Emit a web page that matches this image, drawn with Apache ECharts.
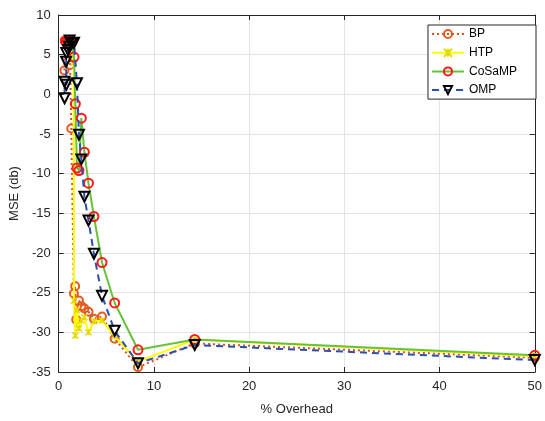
<!DOCTYPE html>
<html><head><meta charset="utf-8">
<script src="https://cdn.jsdelivr.net/npm/echarts@6/dist/echarts.min.js"></script>
<style>html,body{margin:0;padding:0;background:#fff}#c{width:545px;height:421px}</style>
</head><body><div id="c"></div>
<script>
// overhead (%) values and MSE (dB)
const xBP = [50, 14.29, 8.33, 5.88, 4.55, 3.70, 3.13, 2.70, 2.38, 2.13, 1.84, 1.73, 1.60, 1.32, 1.20, 0.95, 0.80, 0.65, 0.60];
const yBP = [-33.2, -31.4, -34.4, -30.8, -28.0, -28.3, -27.4, -27.0, -26.7, -26.0, -28.4, -24.2, -25.1, -4.3, 3.7, 6.7, 6.8, 6.8, 3.0];
const xHTP = [50, 14.29, 8.33, 5.88, 4.55, 3.70, 3.13, 2.70, 2.38, 2.13, 1.92, 1.75, 1.61, 1.58, 1.30, 1.10, 0.90, 0.70];
const yHTP = [-33.0, -30.9, -33.7, -30.5, -28.5, -28.6, -30.0, -28.1, -28.5, -29.5, -27.2, -30.4, -26.0, 4.0, 5.5, 6.2, 6.6, 6.7];
const xCoSaMP = [50, 14.29, 8.33, 5.88, 4.55, 3.70, 3.13, 2.70, 2.38, 2.13, 1.92, 1.75, 1.61, 1.40, 1.10, 0.90, 0.70];
const yCoSaMP = [-32.9, -30.9, -32.2, -26.3, -21.2, -15.4, -11.2, -7.3, -3.0, -9.6, -9.3, -1.2, 4.7, 6.6, 6.8, 6.8, 6.7];
const xOMP = [50, 14.29, 8.33, 5.88, 4.55, 3.70, 3.13, 2.70, 2.38, 2.13, 1.92, 1.61, 1.35, 1.15, 1.10, 0.97, 0.80, 0.78, 0.80, 0.62, 0.62];
const yOMP = [-33.5, -31.6, -33.9, -29.8, -25.4, -20.1, -15.9, -12.9, -8.2, -5.1, 1.4, 6.5, 6.4, 6.8, 6.0, 5.6, 5.2, 4.1, 1.2, 1.6, -0.5];
const seriesNames = ['BP', 'HTP', 'CoSaMP', 'OMP'];
const xTicks = [0, 10, 20, 30, 40, 50];
const yTicks = [-35, -30, -25, -20, -15, -10, -5, 0, 5, 10];

const pairs = (xs, ys) => xs.map((x, i) => [x, ys[i]]);
const font = 'Liberation Sans, Arial, Helvetica, sans-serif';
const axisCol = '#262626';
const chart = echarts.init(document.getElementById('c'), null, {renderer: 'canvas'});
const axisCommon = {
  type: 'value',
  axisLine: {show: true, onZero: false, lineStyle: {color: axisCol, width: 1}},
  axisTick: {show: true, inside: true, length: 5, lineStyle: {color: axisCol}},
  splitLine: {show: false}
};
const none = 'rgba(0,0,0,0)';
chart.setOption({
  animation: false,
  grid: {left: 57, right: 9, top: 15, bottom: 49, containLabel: false},
  legend: {
    data: seriesNames, orient: 'vertical', right: 9, top: 25,
    backgroundColor: '#fff', borderColor: '#262626', borderWidth: 1,
    padding: [3, 19, 3, 3], itemGap: 6.7, itemWidth: 32, itemHeight: 10,
    textStyle: {fontFamily: font, fontSize: 12, color: '#000'}
  },
  xAxis: [
    Object.assign({}, axisCommon, {min: 0, max: 50, interval: 10, position: 'bottom',
      name: '% Overhead', nameLocation: 'middle', nameGap: 31,
      nameTextStyle: {fontFamily: font, fontSize: 13, color: axisCol},
      axisLabel: {fontFamily: font, fontSize: 13, color: axisCol, margin: 8},
      splitLine: {show: true, lineStyle: {color: '#e3e3e3'}}}),
    Object.assign({}, axisCommon, {min: 0, max: 50, interval: 10, position: 'top', axisLabel: {show: false}})
  ],
  yAxis: [
    Object.assign({}, axisCommon, {min: -35, max: 10, interval: 5, position: 'left',
      name: 'MSE (db)', nameLocation: 'middle', nameGap: 33,
      nameTextStyle: {fontFamily: font, fontSize: 13, color: axisCol},
      axisLabel: {fontFamily: font, fontSize: 13, color: axisCol, margin: 8},
      splitLine: {show: true, lineStyle: {color: '#e3e3e3'}}}),
    Object.assign({}, axisCommon, {min: -35, max: 10, interval: 5, position: 'right', axisLabel: {show: false}})
  ],
  series: [
    {name: 'BP', type: 'line', data: pairs(xBP, yBP), symbol: 'circle', symbolSize: 8, showAllSymbol: true,
      lineStyle: {color: '#D95319', width: 2, type: [2, 3]},
      itemStyle: {color: none, borderColor: '#E8591E', borderWidth: 2}, z: 2},
    {name: 'HTP', type: 'line', data: pairs(xHTP, yHTP), symbol: 'path://M0,0L10,10M10,0L0,10M5,0L5,10', symbolSize: 6, showAllSymbol: true,
      lineStyle: {color: '#FFFF00', width: 2, type: 'solid'},
      itemStyle: {color: '#E6D800', borderColor: '#E6D800', borderWidth: 1.5}, z: 3},
    {name: 'CoSaMP', type: 'line', data: pairs(xCoSaMP, yCoSaMP), symbol: 'circle', symbolSize: 9, showAllSymbol: true,
      lineStyle: {color: '#66C23A', width: 2, type: 'solid'},
      itemStyle: {color: none, borderColor: '#FF1A1A', borderWidth: 2}, z: 4},
    {name: 'OMP', type: 'line', data: pairs(xOMP, yOMP), symbol: 'triangle', symbolRotate: 180, symbolSize: 10, showAllSymbol: true,
      lineStyle: {color: '#2B4FB0', width: 2, type: [7, 5]},
      itemStyle: {color: none, borderColor: '#000', borderWidth: 2}, z: 5}
  ]
});
</script></body></html>
